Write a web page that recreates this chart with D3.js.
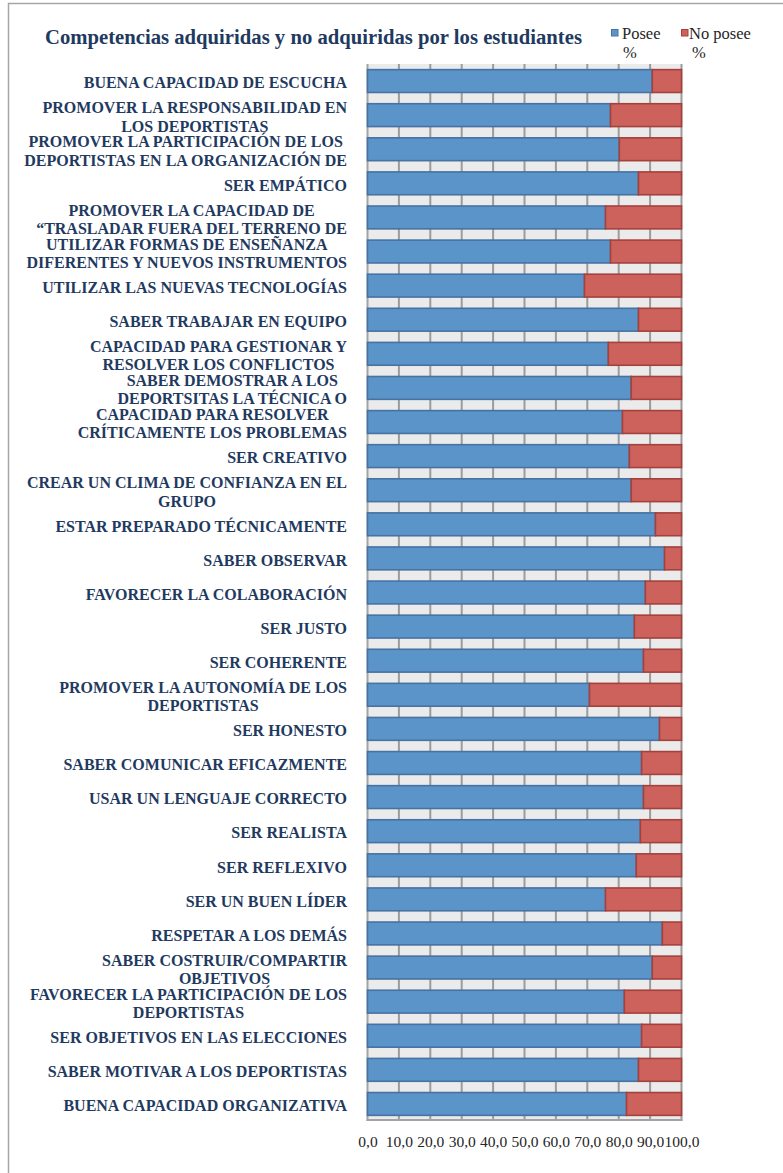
<!DOCTYPE html>
<html>
<head>
<meta charset="utf-8">
<script src="https://cdn.jsdelivr.net/npm/d3@7"></script>
<style>
	body { margin: 0; background: #fff; }
	svg { display: block; }
</style>
</head>
<body>
<svg id="chart"></svg>
<script>

/* data (labels keep their line breaks) */
var categories = [
	"BUENA CAPACIDAD DE ESCUCHA",
	"PROMOVER LA RESPONSABILIDAD EN\nLOS DEPORTISTAS",
	"PROMOVER LA PARTICIPACIÓN DE LOS\nDEPORTISTAS EN LA ORGANIZACIÓN DE",
	"SER EMPÁTICO ",
	"PROMOVER LA CAPACIDAD DE\n“TRASLADAR FUERA DEL  TERRENO DE",
	"UTILIZAR FORMAS DE ENSEÑANZA\nDIFERENTES Y NUEVOS INSTRUMENTOS",
	"UTILIZAR LAS NUEVAS TECNOLOGÍAS",
	"SABER TRABAJAR EN EQUIPO ",
	"CAPACIDAD PARA GESTIONAR Y \nRESOLVER LOS CONFLICTOS",
	"SABER DEMOSTRAR A LOS\nDEPORTSITAS LA TÉCNICA O",
	"CAPACIDAD PARA RESOLVER\nCRÍTICAMENTE LOS PROBLEMAS",
	"SER CREATIVO ",
	"CREAR UN CLIMA DE CONFIANZA EN EL\nGRUPO",
	"ESTAR PREPARADO TÉCNICAMENTE",
	"SABER OBSERVAR ",
	"FAVORECER LA COLABORACIÓN",
	"SER JUSTO",
	"SER COHERENTE ",
	"PROMOVER LA AUTONOMÍA DE LOS\nDEPORTISTAS",
	"SER HONESTO ",
	"SABER COMUNICAR EFICAZMENTE ",
	"USAR UN LENGUAJE CORRECTO ",
	"SER REALISTA ",
	"SER REFLEXIVO ",
	"SER UN BUEN LÍDER ",
	"RESPETAR A LOS DEMÁS",
	"SABER COSTRUIR/COMPARTIR\nOBJETIVOS",
	"FAVORECER LA PARTICIPACIÓN DE LOS\nDEPORTISTAS",
	"SER OBJETIVOS EN LAS ELECCIONES",
	"SABER MOTIVAR A LOS DEPORTISTAS",
	"BUENA CAPACIDAD ORGANIZATIVA "
];

var posee = [90.7, 77.4, 80.2, 86.3, 75.8, 77.4, 69.1, 86.3, 76.7, 84.0,
	81.2, 83.4, 84.0, 91.7, 94.6, 88.5, 85.0, 87.9, 70.7, 93.0,
	87.3, 87.9, 86.9, 85.6, 75.8, 93.9, 90.7, 81.8, 87.3, 86.3, 82.5];

var noPosee = [9.3, 22.6, 19.8, 13.7, 24.2, 22.6, 30.9, 13.7, 23.3, 16.0,
	18.8, 16.6, 16.0, 8.3, 5.4, 11.5, 15.0, 12.1, 29.3, 7.0,
	12.7, 12.1, 13.1, 14.4, 24.2, 6.1, 9.3, 18.2, 12.7, 13.7, 17.5];

var seriesNames = ["Posee", "No posee"];
var xTicks = [0, 10, 20, 30, 40, 50, 60, 70, 80, 90, 100];
var titleText = "Competencias adquiridas y no adquiridas por los estudiantes";

/* settings */
var width = 783,
	height = 1173,
	plot = { left: 367.5, right: 681.5, top: 64, bottom: 1121 },
	colors = { fill: ["#5b94c9", "#cd625c"], stroke: ["#4672a4", "#a5413d"] },
	navy = "#1f3a60",
	serif = "'Liberation Serif', 'Times New Roman', serif",
	labelRight = 347,
	lineGap = 18.3;

var rows = categories.map(function (c, i){
	return { name: c, posee: posee[i], noPosee: noPosee[i] };
});

var svg = d3.select("#chart")
	.attr("width", width)
	.attr("height", height);

/* outer frame (only left and top edges fall inside the picture) */
svg.append("rect")
	.attr("x", 8.5).attr("y", 3.5)
	.attr("width", 900).attr("height", 1300)
	.attr("fill", "none")
	.attr("stroke", "#a6a6a6")
	.attr("stroke-width", 1.5);

/* scales */
var xScale = d3.scaleLinear()
	.domain([0, 100])
	.range([plot.left, plot.right]);

var yScale = d3.scaleBand()
	.domain(categories)
	.range([plot.top, plot.bottom])
	.paddingInner(0.33)
	.paddingOuter(0.165);

/* plot background and grid */
svg.append("rect")
	.attr("x", plot.left).attr("y", plot.top)
	.attr("width", plot.right - plot.left)
	.attr("height", plot.bottom - plot.top)
	.attr("fill", "#ebebeb");

svg.append("g").attr("class", "grid")
	.selectAll("line")
	.data(xTicks)
	.enter().append("line")
		.attr("x1", function (d){ return xScale(d); })
		.attr("x2", function (d){ return xScale(d); })
		.attr("y1", plot.top)
		.attr("y2", plot.bottom)
		.attr("stroke", function (d){ return d === 0 ? "#a3a3a3" : "#9c9c9c"; })
		.attr("stroke-width", 2);

/* bottom axis line */
svg.append("line")
	.attr("x1", plot.left - 1).attr("x2", plot.right + 1)
	.attr("y1", plot.bottom - 1).attr("y2", plot.bottom - 1)
	.attr("stroke", "#a3a3a3")
	.attr("stroke-width", 2);

/* stacked bars */
var stack = d3.stack().keys(["posee", "noPosee"]);
var layers = stack(rows);

svg.append("g").attr("class", "bars")
	.selectAll("g")
	.data(layers)
	.enter().append("g")
		.attr("fill", function (d, i){ return colors.fill[i]; })
		.attr("stroke", function (d, i){ return colors.stroke[i]; })
		.attr("stroke-width", 1.6)
	.selectAll("rect")
	.data(function (d){ return d; })
	.enter().append("rect")
		.attr("x", function (d){ return xScale(d[0]); })
		.attr("y", function (d){ return yScale(d.data.name); })
		.attr("width", function (d){ return xScale(d[1]) - xScale(d[0]); })
		.attr("height", yScale.bandwidth());

/* category labels: block right-aligned, lines centred inside the block */
var labels = svg.append("g").attr("class", "labels")
	.attr("font-family", serif)
	.attr("font-weight", "bold")
	.attr("font-size", 16)
	.attr("fill", navy)
	.style("white-space", "pre");

labels.selectAll("g")
	.data(categories)
	.enter().append("g")
	.each(function (d){
		var g = d3.select(this),
			lines = d.split("\n"),
			cy = yScale(d) + yScale.bandwidth() / 2 + 2,
			first = cy - (lines.length - 1) * lineGap / 2 + 5.3;

		var texts = g.selectAll("text")
			.data(lines)
			.enter().append("text")
				.attr("y", function (l, i){ return first + i * lineGap; })
				.text(function (l){ return l; });

		var widest = 0;
		texts.each(function (){ widest = Math.max(widest, this.getComputedTextLength()); });
		texts.attr("x", labelRight - widest / 2)
			.attr("text-anchor", "middle");
	});

/* x axis labels */
var xAxis = d3.axisBottom(xScale)
	.tickValues(xTicks)
	.tickSize(0)
	.tickFormat(function (d){ return d3.format(".1f")(d).replace(".", ","); });

var xAxisG = svg.append("g")
	.attr("class", "x-axis")
	.attr("transform", "translate(0," + plot.bottom + ")")
	.call(xAxis);

xAxisG.select(".domain").remove();
xAxisG.selectAll("text")		//styled after call, the axis sets its own font
	.attr("y", 25.5)
	.attr("dy", 0)
	.attr("fill", "#262626")
	.attr("font-family", serif)
	.attr("font-size", 15.5);

/* title */
svg.append("text")
	.attr("x", 45)
	.attr("y", 43.5)
	.attr("font-family", serif)
	.attr("font-weight", "bold")
	.attr("font-size", 20.5)
	.attr("fill", navy)
	.attr("textLength", 537)
	.attr("lengthAdjust", "spacingAndGlyphs")
	.text(titleText);

/* legend */
var legendX = [611, 681];

var legend = svg.append("g").attr("class", "legend")
	.attr("font-family", serif)
	.attr("font-size", 16.5)
	.attr("fill", "#262626")
	.selectAll("g")
	.data(seriesNames)
	.enter().append("g")
		.attr("transform", function (d, i){ return "translate(" + legendX[i] + ",29)"; });

legend.append("rect")
	.attr("x", 0.5).attr("y", 0.5)
	.attr("width", 6.5).attr("height", 6.5)
	.attr("fill", function (d, i){ return colors.fill[i]; })
	.attr("stroke", function (d, i){ return colors.stroke[i]; })
	.attr("stroke-width", 1);

legend.append("text")
	.attr("x", function (d, i){ return i ? 8 : 11; })
	.attr("y", 10)
	.text(function (d){ return d; });

legend.append("text")
	.attr("x", function (d, i){ return i ? 11 : 12; })
	.attr("y", 28.5)
	.text("%");

</script>
</body>
</html>
